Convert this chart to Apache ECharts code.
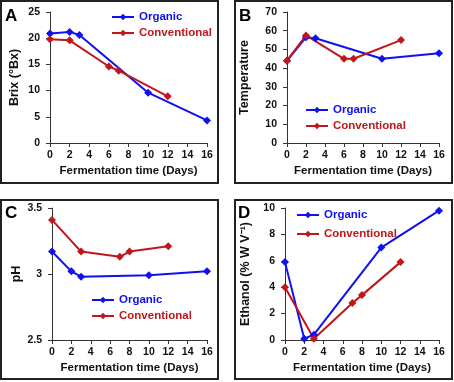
<!DOCTYPE html>
<html>
<head>
<meta charset="utf-8">
<script src="https://cdn.jsdelivr.net/npm/echarts@6/dist/echarts.min.js"></script>
<style>
html, body { margin: 0; padding: 0; background: #fff; }
#main { width: 454px; height: 382px; }
</style>
</head>
<body>
<div id="main"></div>
<script>
// days sampled
var orgDays = [0, 2, 3, 10, 16];
var convDaysAB = [0, 2, 6, 7, 12];
var convDaysCD = [0, 3, 7, 8, 12];

// A: Brix
var brixOrg = [20.9, 21.2, 20.6, 9.6, 4.3];
var brixConv = [19.8, 19.6, 14.6, 13.8, 8.9];
// B: temperature
var tempOrg = [44, 56.5, 56, 45, 48];
var tempConv = [44, 57.5, 45, 45, 55];
// C: pH
var phOrg = [3.17, 3.02, 2.98, 2.99, 3.02];
var phConv = [3.41, 3.17, 3.13, 3.17, 3.21];
// D: ethanol
var ethOrg = [5.9, 0.1, 0.4, 7.0, 9.8];
var ethConv = [4.0, 0.1, 2.8, 3.4, 5.9];

var blue = '#1010f0';
var red = '#c0161c';
var font = 'Liberation Sans, Arial, sans-serif';

function pairs(xs, ys) {
    return xs.map(function (x, i) { return [x, ys[i]]; });
}

function xAx(idx) {
    return {
        type: 'value', gridIndex: idx, min: 0, max: 16, interval: 2,
        name: 'Fermentation time (Days)', nameLocation: 'middle', nameGap: 22,
        nameTextStyle: { fontFamily: font, fontWeight: 'bold', fontSize: 11.5, color: '#111' },
        axisLine: { lineStyle: { color: '#333', width: 1 } },
        axisTick: { inside: false, length: 4, lineStyle: { color: '#333' } },
        axisLabel: { fontFamily: font, fontWeight: 'bold', fontSize: 10.5, color: '#111', margin: 7 },
        splitLine: { show: false }
    };
}

function yAx(idx, name, min, max, interval, gap) {
    return {
        type: 'value', gridIndex: idx, min: min, max: max, interval: interval,
        name: name, nameLocation: 'middle', nameGap: gap,
        nameTextStyle: { fontFamily: font, fontWeight: 'bold', fontSize: 12.5, color: '#111' },
        axisLine: { show: true, lineStyle: { color: '#333', width: 1 } },
        axisTick: { show: true, inside: false, length: 4, lineStyle: { color: '#333' } },
        axisLabel: { fontFamily: font, fontWeight: 'bold', fontSize: 10.5, color: '#111', margin: 10 },
        splitLine: { show: false }
    };
}

function line(name, idx, data, color) {
    return {
        name: name, type: 'line', xAxisIndex: idx, yAxisIndex: idx,
        data: data, symbol: 'diamond', symbolSize: 8,
        lineStyle: { color: color, width: 2 },
        itemStyle: { color: color },
        animation: false
    };
}

function leg(left, top, gap) {
    return {
        left: left, top: top, orient: 'vertical', itemGap: gap,
        itemWidth: 22, itemHeight: 8,
        selectedMode: false,
        textStyle: { fontFamily: font, fontWeight: 'bold', fontSize: 11.5 },
        data: [
            { name: 'Organic', textStyle: { color: blue } },
            { name: 'Conventional', textStyle: { color: red } }
        ]
    };
}

function box(x, y, w, h) {
    return { type: 'rect', shape: { x: x, y: y, width: w, height: h },
             style: { fill: 'none', stroke: '#222', lineWidth: 2 } };
}
function letter(t, x, y) {
    return { type: 'text', left: x, top: y,
             style: { text: t, font: 'bold 17px ' + font, fill: '#000' } };
}

var option = {
    backgroundColor: '#fff',
    animation: false,
    grid: [
        { left: 50, right: 247, top: 12, bottom: 239 },
        { left: 287, right: 15, top: 12, bottom: 239 },
        { left: 52, right: 247, top: 208, bottom: 42 },
        { left: 285, right: 15, top: 208, bottom: 42 }
    ],
    xAxis: [xAx(0), xAx(1), xAx(2), xAx(3)],
    yAxis: [
        yAx(0, 'Brix (°Bx)', 0, 25, 5, 29),
        yAx(1, 'Temperature', 0, 70, 10, 36),
        yAx(2, 'pH', 2.5, 3.5, 0.5, 29),
        yAx(3, 'Ethanol (% W V⁻¹)', 0, 10, 2, 33)
    ],
    legend: [
        leg(106, 6, 4),
        leg(300, 99, 4),
        leg(86, 289, 4),
        leg(291, 204, 7)
    ],
    graphic: [
        box(1, 1, 217, 182),
        box(235, 1, 217, 182),
        box(1, 200, 217, 179),
        box(235, 200, 217, 179),
        letter('A', 5, 8),
        letter('B', 239, 8),
        letter('C', 5, 205),
        letter('D', 238, 205)
    ],
    series: [
        line('Organic', 0, pairs(orgDays, brixOrg), blue),
        line('Conventional', 0, pairs(convDaysAB, brixConv), red),
        line('Organic', 1, pairs(orgDays, tempOrg), blue),
        line('Conventional', 1, pairs(convDaysAB, tempConv), red),
        line('Organic', 2, pairs(orgDays, phOrg), blue),
        line('Conventional', 2, pairs(convDaysCD, phConv), red),
        line('Organic', 3, pairs(orgDays, ethOrg), blue),
        line('Conventional', 3, pairs(convDaysCD, ethConv), red)
    ]
};

var chart = echarts.init(document.getElementById('main'));
chart.setOption(option);
</script>
</body>
</html>
